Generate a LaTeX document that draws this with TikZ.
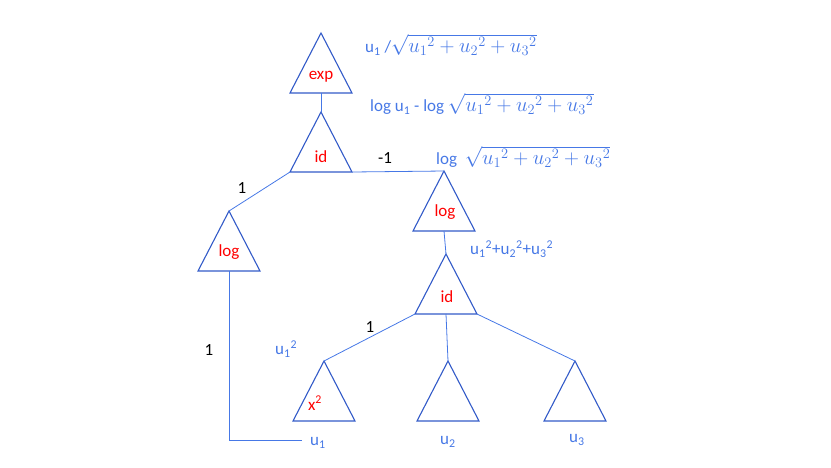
\documentclass[tikz,border=0pt]{standalone}
\usepackage{fontspec}
\usepackage{amsmath}
\setmainfont{Carlito}
\definecolor{tb}{RGB}{50,90,200}
\definecolor{lb}{RGB}{70,120,230}
\newcommand{\rootexpr}{{\fontsize{22}{24}\selectfont$\sqrt{u_1{}^2+u_2{}^2+u_3{}^2}$}}
\begin{document}
\begin{tikzpicture}[x=1pt,y=-1pt,
  tri/.style={draw=tb,line width=1.1pt,line join=miter},
  ed/.style={draw=lb,line width=0.8pt},
  rl/.style={text=red,font=\fontsize{17}{19}\selectfont},
  bl/.style={text=lb,font=\fontsize{17}{19}\selectfont,anchor=west,inner sep=0},
  wl/.style={text=black,font=\fontsize{17}{19}\selectfont}]
\useasboundingbox (0,0) rectangle (831,467);
\newcommand{\tri}[4]{% name, apex x, apex y, half width
  \draw[tri] (#2,#3) -- (#2-31,#3+60) -- (#2+31,#3+60) -- cycle;
  \coordinate (#1t) at (#2,#3);
  \coordinate (#1b) at (#2,#3+60);
  \coordinate (#1l) at (#2-31,#3+60);
  \coordinate (#1r) at (#2+31,#3+60);}
\tri{exp}{321}{33}{}
\tri{ida}{321}{112}{}
\tri{lgr}{444}{171}{}
\tri{lgl}{229}{211}{}
\tri{idb}{446}{254}{}
\tri{sq}{324}{361}{}
\tri{ub}{448}{361}{}
\tri{uc}{575}{361}{}
\node[rl] (nexp) at (321,77) {exp};
\node[rl] (nida) at (321,157) {id};
\node[rl] (nlgr) at (445,212) {log};
\node[rl] (nlgl) at (229,252) {log};
\node[rl] (nidb) at (447,297) {id};
\node[rl] (nsq) at (315,403) {x\textsuperscript{2}};
\coordinate (corner) at (229,440);
\coordinate (uend) at (302,440);
\draw[ed] (expb) -- (idat);
\draw[ed] (idal) -- (lglt);
\draw[ed] (idar) -- (lgrt);
\draw[ed] (lgrb) -- (idbt);
\draw[ed] (lglb) -- (corner) -- (uend);
\draw[ed] (idbl) -- (sqt);
\draw[ed] (idbb) -- (ubt);
\draw[ed] (idbr) -- (uct);
\node[wl] (w1) at (242,188) {1};
\node[wl] (w2) at (385,158) {-1};
\node[wl] (w3) at (209,350) {1};
\node[wl] (w4) at (370,327) {1};
\node[bl] (t1) at (365,45) {u\textsubscript{1} /\rootexpr};
\node[bl] (t2) at (370,104) {log u\textsubscript{1} - log \rootexpr};
\node[bl] (t3) at (436,157) {log\ \ \rootexpr};
\node[bl] (t4) at (470,249) {u\textsubscript{1}\textsuperscript{2}+u\textsubscript{2}\textsuperscript{2}+u\textsubscript{3}\textsuperscript{2}};
\node[bl] (t5) at (275,349) {u\textsubscript{1}\textsuperscript{2}};
\node[bl] (t6) at (310,443) {u\textsubscript{1}};
\node[bl] (t7) at (440,442) {u\textsubscript{2}};
\node[bl] (t8) at (569,440) {u\textsubscript{3}};
\end{tikzpicture}
\end{document}
